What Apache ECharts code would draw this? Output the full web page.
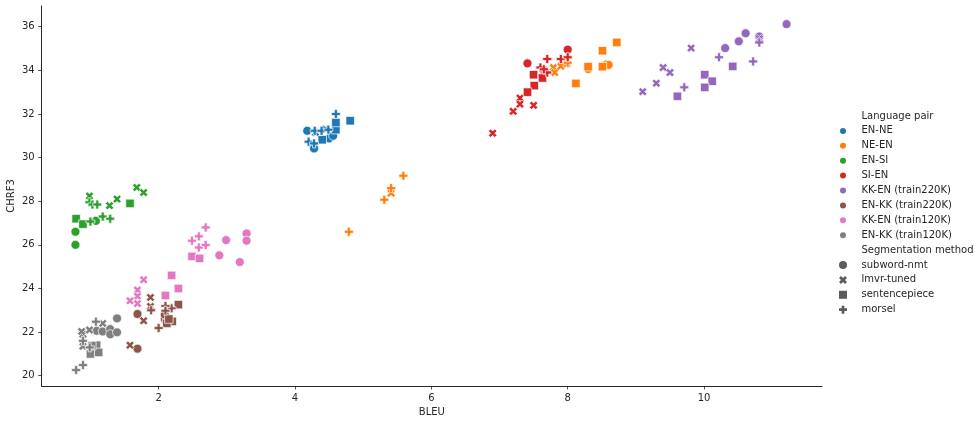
<!DOCTYPE html>
<html>
<head>
<meta charset="utf-8">
<script src="https://cdn.jsdelivr.net/npm/echarts@6/dist/echarts.min.js"></script>
<style>html,body{margin:0;padding:0;background:#fff}#c{width:980px;height:424px}</style>
</head>
<body>
<div id="c"></div>
<script>
// ---- data (BLEU, CHRF3, segmentation method) ----
const pairNames = ['EN-NE','NE-EN','EN-SI','SI-EN','KK-EN (train220K)','EN-KK (train220K)','KK-EN (train120K)','EN-KK (train120K)'];
const methodNames = ['subword-nmt','lmvr-tuned','sentencepiece','morsel'];
const xTicks = [2,4,6,8,10];
const yTicks = [20,22,24,26,28,30,32,34,36];

const enNe = [
  [4.18,31.23,'subword-nmt'],[4.50,30.88,'subword-nmt'],[4.56,31.00,'subword-nmt'],[4.28,30.42,'subword-nmt'],
  [4.30,31.15,'lmvr-tuned'],[4.45,31.30,'lmvr-tuned'],
  [4.60,31.28,'sentencepiece'],[4.60,31.61,'sentencepiece'],[4.81,31.69,'sentencepiece'],[4.40,30.82,'sentencepiece'],
  [4.29,31.23,'morsel'],[4.39,31.23,'morsel'],[4.49,31.28,'morsel'],[4.60,32.00,'morsel'],[4.20,30.73,'morsel'],[4.28,30.65,'morsel']
];
const neEn = [
  [8.57,34.27,'subword-nmt'],[8.60,34.25,'subword-nmt'],[8.30,34.06,'subword-nmt'],
  [7.79,34.13,'lmvr-tuned'],[7.81,33.90,'lmvr-tuned'],[7.90,34.19,'lmvr-tuned'],[7.99,34.30,'lmvr-tuned'],[5.41,28.37,'lmvr-tuned'],
  [8.72,35.28,'sentencepiece'],[8.51,34.90,'sentencepiece'],[8.30,34.17,'sentencepiece'],[8.51,34.17,'sentencepiece'],[8.12,33.40,'sentencepiece'],
  [5.59,29.17,'morsel'],[5.41,28.60,'morsel'],[5.31,28.07,'morsel'],[4.79,26.60,'morsel'],[8.00,34.35,'morsel']
];
const enSi = [
  [0.78,26.00,'subword-nmt'],[0.78,26.60,'subword-nmt'],[1.08,27.10,'subword-nmt'],
  [0.985,28.24,'lmvr-tuned'],[1.28,27.80,'lmvr-tuned'],[1.39,28.10,'lmvr-tuned'],[1.68,28.63,'lmvr-tuned'],[1.78,28.40,'lmvr-tuned'],
  [0.79,27.20,'sentencepiece'],[0.89,26.95,'sentencepiece'],[1.58,27.90,'sentencepiece'],
  [1.00,27.07,'morsel'],[1.18,27.30,'morsel'],[1.29,27.20,'morsel'],[0.985,27.95,'morsel'],[1.03,27.85,'morsel'],[1.10,27.85,'morsel']
];
const siEn = [
  [8.00,34.95,'subword-nmt'],[7.41,34.32,'subword-nmt'],[7.65,34.00,'subword-nmt'],
  [7.30,32.73,'lmvr-tuned'],[7.30,32.45,'lmvr-tuned'],[7.50,32.40,'lmvr-tuned'],[7.20,32.12,'lmvr-tuned'],[6.90,31.12,'lmvr-tuned'],
  [7.50,33.80,'sentencepiece'],[7.63,33.65,'sentencepiece'],[7.51,33.30,'sentencepiece'],[7.41,33.00,'sentencepiece'],
  [7.70,34.52,'morsel'],[7.90,34.52,'morsel'],[8.00,34.60,'morsel'],[7.60,34.13,'morsel'],[7.70,33.90,'morsel'],[7.65,34.05,'morsel']
];
const kkEn220 = [
  [11.21,36.12,'subword-nmt'],[10.61,35.70,'subword-nmt'],[10.51,35.33,'subword-nmt'],[10.31,35.02,'subword-nmt'],[10.81,35.55,'subword-nmt'],
  [9.81,35.02,'lmvr-tuned'],[9.40,34.13,'lmvr-tuned'],[9.50,33.90,'lmvr-tuned'],[9.30,33.41,'lmvr-tuned'],[9.10,33.02,'lmvr-tuned'],[10.81,35.45,'lmvr-tuned'],
  [10.42,34.18,'sentencepiece'],[10.01,33.80,'sentencepiece'],[10.12,33.50,'sentencepiece'],[10.01,33.22,'sentencepiece'],[9.61,32.81,'sentencepiece'],
  [10.81,35.28,'morsel'],[10.72,34.41,'morsel'],[10.22,34.60,'morsel'],[9.71,33.22,'morsel']
];
const enKk220 = [
  [1.69,22.83,'subword-nmt'],[1.69,21.24,'subword-nmt'],[2.09,22.60,'subword-nmt'],[2.09,22.80,'subword-nmt'],
  [1.58,21.40,'lmvr-tuned'],[1.78,22.52,'lmvr-tuned'],[1.88,23.59,'lmvr-tuned'],[1.88,23.18,'lmvr-tuned'],
  [2.29,23.26,'sentencepiece'],[2.20,22.49,'sentencepiece'],[2.12,22.40,'sentencepiece'],[2.15,22.60,'sentencepiece'],
  [1.89,23.00,'morsel'],[2.00,22.19,'morsel'],[2.19,23.09,'morsel'],[2.10,23.20,'morsel'],[2.10,22.98,'morsel']
];
const kkEn120 = [
  [2.99,26.22,'subword-nmt'],[3.29,26.52,'subword-nmt'],[3.29,26.19,'subword-nmt'],[2.89,25.52,'subword-nmt'],[3.19,25.21,'subword-nmt'],
  [1.78,24.40,'lmvr-tuned'],[1.69,23.93,'lmvr-tuned'],[1.69,23.65,'lmvr-tuned'],[1.58,23.44,'lmvr-tuned'],[1.69,23.31,'lmvr-tuned'],
  [2.49,25.47,'sentencepiece'],[2.60,25.38,'sentencepiece'],[2.19,24.60,'sentencepiece'],[2.29,24.00,'sentencepiece'],[2.10,23.68,'sentencepiece'],
  [2.69,26.80,'morsel'],[2.59,26.39,'morsel'],[2.49,26.19,'morsel'],[2.59,25.88,'morsel'],[2.69,25.99,'morsel']
];
const enKk120 = [
  [1.09,22.06,'subword-nmt'],[1.18,22.03,'subword-nmt'],[1.29,22.14,'subword-nmt'],[1.29,21.90,'subword-nmt'],[1.39,21.99,'subword-nmt'],[1.39,22.63,'subword-nmt'],
  [0.89,21.35,'lmvr-tuned'],[0.89,21.90,'lmvr-tuned'],[0.985,22.10,'lmvr-tuned'],[0.87,22.03,'lmvr-tuned'],[1.18,22.40,'lmvr-tuned'],
  [1.00,21.00,'sentencepiece'],[1.09,21.40,'sentencepiece'],[1.12,21.07,'sentencepiece'],[1.02,21.38,'sentencepiece'],
  [0.79,20.26,'morsel'],[0.89,20.49,'morsel'],[0.89,21.60,'morsel'],[1.08,22.48,'morsel'],[0.99,21.30,'morsel']
];
const pairData = [enNe, neEn, enSi, siEn, kkEn220, enKk220, kkEn120, enKk120];

// ---- styling ----
const palette = ['#1f77b4','#ff7f0e','#2ca02c','#d62728','#9467bd','#8c564b','#e377c2','#7f7f7f'];
const PLUS = 'path://M2,0L4,0L4,2L6,2L6,4L4,4L4,6L2,6L2,4L0,4L0,2L2,2Z';
const XMARK = 'path://M0,6L2,8L4,6L6,8L8,6L6,4L8,2L6,0L4,2L2,0L0,2L2,4Z';
const SQUARE = 'path://M0,0L6,0L6,6L0,6Z';
const CIRCLE = 'path://M6,3A3,3,0,1,1,0,3A3,3,0,1,1,6,3Z';
const methodSymbol = {'subword-nmt':'circle','lmvr-tuned':XMARK,'sentencepiece':'rect','morsel':PLUS};
const legendSymbol = {'subword-nmt':CIRCLE,'lmvr-tuned':XMARK,'sentencepiece':SQUARE,'morsel':PLUS};
const methodSize = {'subword-nmt':9,'lmvr-tuned':8.5,'sentencepiece':8.5,'morsel':9};
const FONT = 'DejaVu Sans';
const TXT = '#262626';

const series = [];
series.push({name:'Language pair', type:'scatter', data:[], itemStyle:{color:'rgba(0,0,0,0)'}});
pairNames.forEach((n,i)=>{
  series.push({
    name:n, type:'scatter', data:pairData[i],
    symbol:(v)=>methodSymbol[v[2]],
    symbolSize:(v)=>methodSize[v[2]],
    itemStyle:{color:palette[i], borderColor:'#ffffff', borderWidth:0.7, opacity:1},
    emphasis:{disabled:true}, animation:false
  });
});
series.push({name:'Segmentation method', type:'scatter', data:[], itemStyle:{color:'rgba(0,0,0,0)'}});
methodNames.forEach(m=>{
  series.push({name:m, type:'scatter', data:[], symbol:legendSymbol[m], itemStyle:{color:'#333333'}});
});

const legendData = [{name:'Language pair', icon:SQUARE, itemStyle:{opacity:0}}]
  .concat(pairNames.map(n=>({name:n, icon:CIRCLE})))
  .concat([{name:'Segmentation method', icon:SQUARE, itemStyle:{opacity:0}}])
  .concat(methodNames.map(m=>({name:m, icon:legendSymbol[m]})));

const chart = echarts.init(document.getElementById('c'), null, {renderer:'canvas'});
chart.setOption({
  animation:false,
  textStyle:{fontFamily:FONT},
  grid:{left:41.7, right:158, top:6, bottom:38, containLabel:false, outerBoundsMode:'none'},
  xAxis:{
    type:'value', min:0.285, max:11.73,
    name:'BLEU', nameLocation:'middle', nameGap:21, nameMoveOverlap:false,
    nameTextStyle:{color:TXT, fontSize:10, fontFamily:FONT},
    axisLine:{lineStyle:{color:TXT, width:1}},
    axisTick:{customValues:xTicks, length:3.5, lineStyle:{color:TXT, width:0.8}},
    axisLabel:{customValues:xTicks, margin:7, color:TXT, fontSize:10, fontFamily:FONT},
    splitLine:{show:false}
  },
  yAxis:{
    type:'value', min:19.53, max:36.95,
    name:'CHRF3', nameLocation:'middle', nameGap:25, nameMoveOverlap:false,
    nameTextStyle:{color:TXT, fontSize:10, fontFamily:FONT},
    axisLine:{show:true, lineStyle:{color:TXT, width:1}},
    axisTick:{show:true, customValues:yTicks, length:3.5, lineStyle:{color:TXT, width:0.8}},
    axisLabel:{customValues:yTicks, margin:7, color:TXT, fontSize:10, fontFamily:FONT},
    splitLine:{show:false}
  },
  legend:{
    orient:'vertical', left:838, top:111, padding:0,
    itemWidth:27, itemHeight:8, itemGap:4.9,
    selectedMode:false,
    textStyle:{color:TXT, fontSize:10, lineHeight:10, fontFamily:FONT},
    data:legendData
  },
  series:series
});
</script>
</body>
</html>
